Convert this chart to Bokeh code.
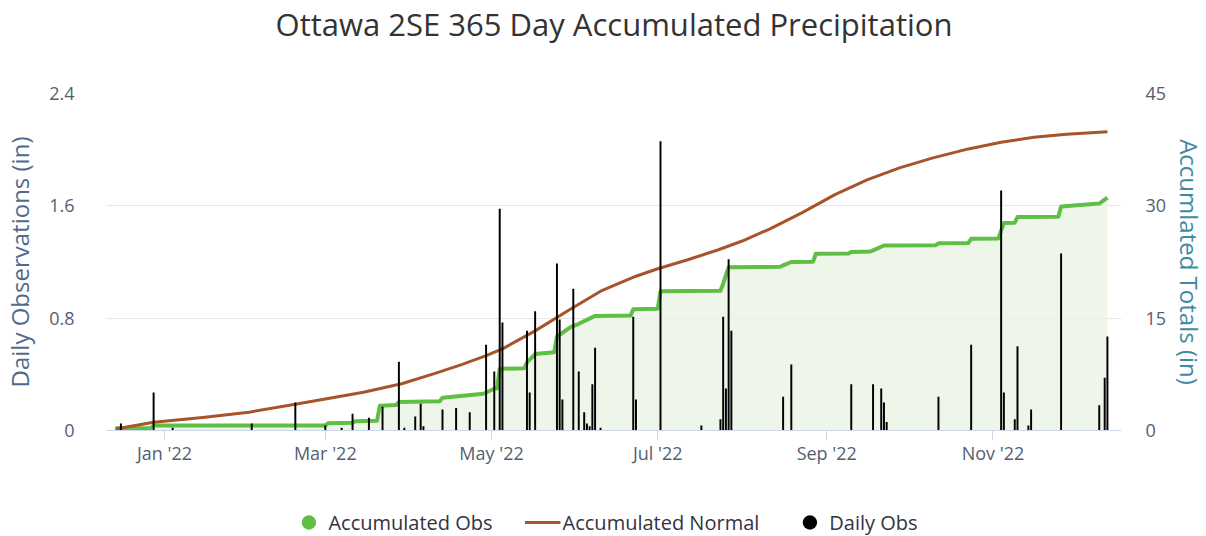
import pandas as pd
from bokeh.plotting import figure
from bokeh.layouts import column
from bokeh.models import (Range1d, LinearAxis, FixedTicker, Legend, LegendItem,
                          ColumnDataSource, Title, DatetimeTickFormatter)
from bokeh.embed import file_html
from bokeh.resources import INLINE

# ---------------- data ----------------
title_text = "Ottawa 2SE 365 Day Accumulated Precipitation"

daily_dates = ["2021-12-16", "2021-12-28", "2022-01-04", "2022-02-02", "2022-02-18",
               "2022-03-01", "2022-03-07", "2022-03-11", "2022-03-17", "2022-03-22",
               "2022-03-28", "2022-03-30", "2022-04-03", "2022-04-05", "2022-04-06",
               "2022-04-13", "2022-04-18", "2022-04-23", "2022-04-29", "2022-05-02",
               "2022-05-04", "2022-05-05", "2022-05-14", "2022-05-15", "2022-05-17",
               "2022-05-25", "2022-05-26", "2022-05-27", "2022-05-31", "2022-06-02",
               "2022-06-04", "2022-06-05", "2022-06-06", "2022-06-07", "2022-06-08",
               "2022-06-10", "2022-06-22", "2022-06-23", "2022-07-02", "2022-07-17",
               "2022-07-24", "2022-07-25", "2022-07-26", "2022-07-27", "2022-07-28",
               "2022-08-16", "2022-08-19", "2022-09-10", "2022-09-18", "2022-09-21",
               "2022-09-22", "2022-09-23", "2022-10-12", "2022-10-24", "2022-11-04",
               "2022-11-05", "2022-11-09", "2022-11-10", "2022-11-14", "2022-11-15",
               "2022-11-26", "2022-12-10", "2022-12-12", "2022-12-13"]
daily_obs = [0.05, 0.27, 0.02, 0.05, 0.20,
             0.035, 0.02, 0.12, 0.09, 0.17,
             0.49, 0.02, 0.10, 0.19, 0.03,
             0.15, 0.16, 0.13, 0.61, 0.42,
             1.58, 0.77, 0.71, 0.27, 0.85,
             1.19, 0.79, 0.22, 1.01, 0.42,
             0.13, 0.05, 0.03, 0.33, 0.59,
             0.02, 0.81, 0.22, 2.06, 0.035,
             0.08, 0.81, 0.30, 1.22, 0.71,
             0.24, 0.47, 0.33, 0.33, 0.30,
             0.20, 0.06, 0.24, 0.61, 1.71,
             0.27, 0.08, 0.60, 0.035, 0.15,
             1.26, 0.18, 0.375, 0.67]

acc_obs_dates = ["2021-12-14", "2021-12-27", "2021-12-28", "2022-03-01", "2022-03-02",
                 "2022-03-11", "2022-03-12", "2022-03-20", "2022-03-21", "2022-03-27",
                 "2022-03-28", "2022-04-12", "2022-04-13", "2022-04-28", "2022-05-02",
                 "2022-05-03", "2022-05-04", "2022-05-13", "2022-05-14", "2022-05-17",
                 "2022-05-24", "2022-05-25", "2022-05-30", "2022-06-02", "2022-06-08",
                 "2022-06-21", "2022-06-22", "2022-07-01", "2022-07-02", "2022-07-24",
                 "2022-07-25", "2022-07-27", "2022-08-15", "2022-08-16", "2022-08-19",
                 "2022-08-27", "2022-08-28", "2022-09-09", "2022-09-10", "2022-09-17",
                 "2022-09-18", "2022-09-22", "2022-10-11", "2022-10-12", "2022-10-23",
                 "2022-10-24", "2022-11-03", "2022-11-05", "2022-11-09", "2022-11-10",
                 "2022-11-25", "2022-11-26", "2022-12-10", "2022-12-13"]
acc_obs = [0.30, 0.35, 0.67, 0.67, 0.98,
           1.05, 1.25, 1.30, 3.30, 3.40,
           3.80, 3.90, 4.36, 4.90, 5.57,
           5.60, 8.24, 8.30, 9.10, 10.20,
           10.45, 12.55, 13.80, 14.25, 15.30,
           15.35, 16.20, 16.25, 18.60, 18.65,
           19.60, 21.80, 21.85, 22.05, 22.50,
           22.55, 23.60, 23.65, 23.85, 23.90,
           24.05, 24.70, 24.75, 25.00, 25.05,
           25.60, 25.65, 27.70, 27.75, 28.50,
           28.55, 29.90, 30.30, 31.10]

normal_dates = ["2021-12-14", "2021-12-28", "2022-01-15", "2022-02-01", "2022-02-18",
                "2022-03-01", "2022-03-15", "2022-03-29", "2022-04-10", "2022-04-20",
                "2022-04-29", "2022-05-05", "2022-05-17", "2022-05-29", "2022-06-10",
                "2022-06-23", "2022-07-01", "2022-07-12", "2022-07-23", "2022-08-01",
                "2022-08-11", "2022-08-23", "2022-09-04", "2022-09-16", "2022-09-28",
                "2022-10-10", "2022-10-23", "2022-11-04", "2022-11-16", "2022-11-28",
                "2022-12-13"]
acc_normal = [0.20, 1.10, 1.75, 2.45, 3.50,
              4.20, 5.10, 6.25, 7.60, 8.80,
              10.00, 10.90, 13.30, 16.00, 18.60,
              20.60, 21.60, 22.80, 24.10, 25.30,
              26.90, 29.10, 31.50, 33.50, 35.10,
              36.40, 37.60, 38.50, 39.15, 39.55,
              39.90]

x_tick_dates = ["2022-01-01", "2022-03-01", "2022-05-01", "2022-07-01", "2022-09-01", "2022-11-01"]
left_ticks = [0, 0.8, 1.6, 2.4]
left_tick_labels = ["0", "0.8", "1.6", "2.4"]
right_ticks = [0, 15, 30, 45]
right_tick_labels = ["0", "15", "30", "45"]
legend_labels = ["Accumulated Obs", "Accumulated Normal", "Daily Obs"]

# ---------------- figure ----------------
FONT = "Open Sans"
GREEN = "#5fbf45"
BROWN = "#a8542a"

def ms(d):
    return pd.Timestamp(d).value / 1e6

p = figure(frame_width=1015, frame_height=337, x_axis_type="datetime",
           output_backend="svg", toolbar_location=None,
           x_range=Range1d(ms("2021-12-10 17:00"), ms("2022-12-18 04:00")),
           y_range=Range1d(0, 2.4),
           min_border_left=94, min_border_right=81, min_border_top=0, min_border_bottom=70)
p.outline_line_color = None
p.background_fill_color = "white"
p.border_fill_color = "white"
p.extra_y_ranges = {"acc": Range1d(0, 45)}

# top: spacer (nearest the frame) then the title
top_spacer = Title(text=" ", text_font_size="42px", standoff=0)
p.add_layout(top_spacer, "above")
title = Title(text=title_text, align="center", text_font_size="31px",
              text_font_style="normal", text_color="#333333", text_font=FONT, standoff=0)
p.add_layout(title, "above")

# grid
p.xgrid.grid_line_color = None
p.ygrid.grid_line_color = "#e6e6e6"
p.ygrid.ticker = FixedTicker(ticks=left_ticks)

# x axis
xa = p.xaxis[0]
xa.ticker = FixedTicker(ticks=[ms(d) for d in x_tick_dates])
xa.formatter = DatetimeTickFormatter(months="%b '%y", days="%b '%y", years="%b '%y")
xa.axis_line_color = "#ccd6eb"
xa.major_tick_line_color = "#ccd6eb"
xa.major_tick_out = 10
xa.major_tick_in = 0
xa.minor_tick_line_color = None
xa.major_label_text_font_size = "18px"
xa.major_label_text_color = "#55606f"
xa.major_label_text_font = FONT
xa.major_label_standoff = 0

# left axis
ya = p.yaxis[0]
ya.ticker = FixedTicker(ticks=left_ticks)
ya.major_label_overrides = {t: l for t, l in zip(left_ticks, left_tick_labels)}
ya.axis_line_color = None
ya.major_tick_line_color = None
ya.minor_tick_line_color = None
ya.major_label_text_font_size = "18px"
ya.major_label_text_color = "#55606f"
ya.major_label_text_font = FONT
ya.major_label_standoff = 26
ya.axis_label = "Daily Observations (in)"
ya.axis_label_text_font_size = "24px"
ya.axis_label_text_font_style = "normal"
ya.axis_label_text_color = "#4f6a8f"
ya.axis_label_text_font = FONT
ya.axis_label_standoff = 10

# right axis
ra = LinearAxis(y_range_name="acc", ticker=FixedTicker(ticks=right_ticks))
ra.major_label_overrides = {t: l for t, l in zip(right_ticks, right_tick_labels)}
ra.axis_line_color = None
ra.major_tick_line_color = None
ra.minor_tick_line_color = None
ra.major_label_text_font_size = "18px"
ra.major_label_text_color = "#55606f"
ra.major_label_text_font = FONT
ra.major_label_standoff = 18
ra.axis_label = "Accumlated Totals (in)"
ra.axis_label_text_font_size = "24px"
ra.axis_label_text_font_style = "normal"
ra.axis_label_text_color = "#3f8aa3"
ra.axis_label_text_font = FONT
ra.axis_label_standoff = 4
p.add_layout(ra, "right")

# ---------------- series ----------------
acc_src = ColumnDataSource(dict(x=[ms(d) for d in acc_obs_dates], y=acc_obs,
                                y0=[0] * len(acc_obs)))
norm_src = ColumnDataSource(dict(x=[ms(d) for d in normal_dates], y=acc_normal))
daily_src = ColumnDataSource(dict(x=[ms(d) for d in daily_dates], top=daily_obs))

p.varea(x="x", y1="y0", y2="y", source=acc_src, y_range_name="acc",
        fill_color="#e8f3e1", fill_alpha=0.75)
p.line(x="x", y="y", source=acc_src, y_range_name="acc",
       line_color=GREEN, line_width=4, line_join="round")
p.line(x="x", y="y", source=norm_src, y_range_name="acc",
       line_color=BROWN, line_width=3, line_join="round")
p.vbar(x="x", top="top", bottom=0, width=0.72 * 86400000, source=daily_src,
       fill_color="black", line_color=None)

# ---------------- legend strip (separate figure below) ----------------
lg = figure(width=1190, height=44, output_backend="svg", toolbar_location=None,
            x_axis_location=None, y_axis_location=None,
            min_border_left=14, min_border_right=0, min_border_top=0, min_border_bottom=0,
            x_range=Range1d(0, 1), y_range=Range1d(0, 1))
lg.outline_line_color = None
lg.grid.visible = False
lg.background_fill_color = "white"
lg.border_fill_color = "white"

# legend proxies: points placed outside the visible range of this strip
offscreen = ColumnDataSource(dict(x=[-5, -4], y=[-5, -4]))
g1 = lg.scatter(x="x", y="y", source=offscreen, size=15, fill_color=GREEN, line_color=None)
g2 = lg.line(x="x", y="y", source=offscreen, line_color=BROWN, line_width=3)
g3 = lg.scatter(x="x", y="y", source=offscreen, size=15, fill_color="black", line_color=None)

legend = Legend(items=[LegendItem(label=legend_labels[0], renderers=[g1]),
                       LegendItem(label=legend_labels[1], renderers=[g2]),
                       LegendItem(label=legend_labels[2], renderers=[g3])],
                orientation="horizontal", location="center",
                label_text_font_size="20px", label_text_color="#333344",
                label_text_font=FONT, glyph_width=36, glyph_height=38,
                label_standoff=2, spacing=32, padding=2, margin=0,
                border_line_color=None, background_fill_alpha=0)
lg.add_layout(legend, "center")

layout = column(p, lg, spacing=0)
open("out.html", "w").write(file_html(layout, INLINE))
